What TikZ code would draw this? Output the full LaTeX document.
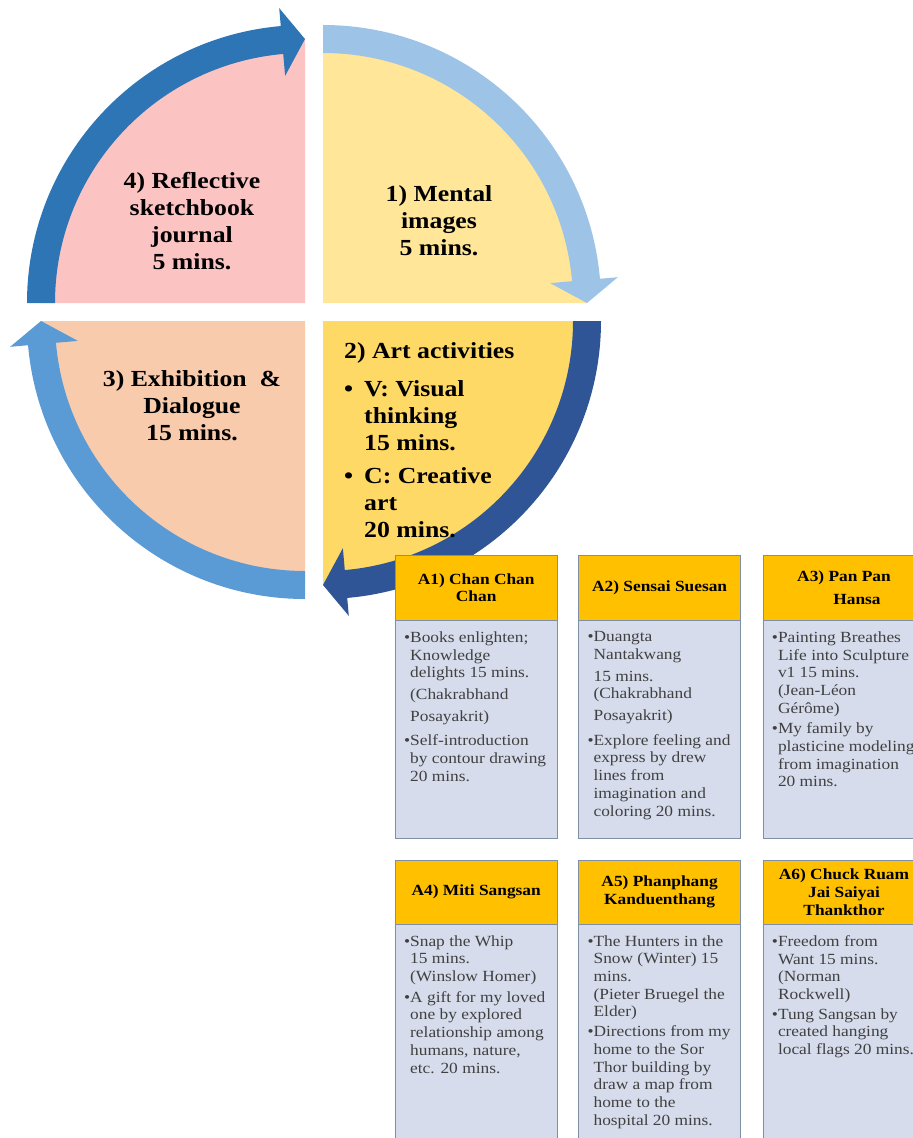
\documentclass[tikz,border=0pt]{standalone}
\usepackage{fontspec}
\setmainfont{Liberation Serif}[FakeStretch=1.12]
\usetikzlibrary{positioning}
\definecolor{PinkFill}{HTML}{FBC4C3}
\definecolor{PaleYellow}{HTML}{FFE699}
\definecolor{GoldFill}{HTML}{FFD966}
\definecolor{PeachFill}{HTML}{F8CBAD}
\definecolor{MidBlue}{HTML}{2E75B6}
\definecolor{SkyBlue}{HTML}{9DC3E6}
\definecolor{NavyBlue}{HTML}{2F5597}
\definecolor{SoftBlue}{HTML}{5B9BD5}
\definecolor{HeadOrange}{HTML}{FFC000}
\definecolor{BodyGrey}{HTML}{D6DCEC}
\definecolor{EdgeGrey}{HTML}{7F8FA6}
\tikzset{
  steptext/.style={font=\fontsize{23}{27}\selectfont\bfseries, align=center, inner sep=0pt},
  acthead/.style={draw=EdgeGrey, fill=HeadOrange, minimum width=162pt, minimum height=65pt,
    inner sep=0pt, align=center, font=\fontsize{15.5}{17.7}\selectfont\bfseries},
  actbody/.style={draw=EdgeGrey, fill=BodyGrey, minimum width=162pt, minimum height=218pt, inner sep=0pt},
  acttext/.style={anchor=north west, inner sep=0pt, align=left, text=black!75,
    font=\fontsize{15.5}{17.7}\selectfont},
}
\newcommand{\bul}{\llap{\textbullet}}
\newcommand{\bulwide}{\makebox[20pt][l]{\textbullet}}

\begin{document}
\begin{tikzpicture}[x=1pt, y=1pt]
  \useasboundingbox (0,0) rectangle (913,-1138);
  \clip (0,0) rectangle (913,-1138);

  \foreach \s/\qfill/\qband/\qx/\qy in {90/PaleYellow/SkyBlue/323/-303,
      0/GoldFill/NavyBlue/323/-321, -90/PeachFill/SoftBlue/305/-321,
      180/PinkFill/MidBlue/305/-303}{%
    \pgfmathsetmacro{\qend}{\s-90}
    \pgfmathsetmacro{\qbase}{\s-85}
    \begin{scope}[shift={(\qx,\qy)}]
      \fill[\qfill] (0,0) -- (\s:264) arc[start angle=\s, end angle=\qend, radius=264] -- cycle;
      \fill[\qband] (\s:278) arc[start angle=\s, end angle=\qbase, radius=278]
        -- (\qbase:296) -- (\qend:264) -- (\qbase:228) -- (\qbase:250)
        arc[start angle=\qbase, end angle=\s, radius=250] -- cycle;
    \end{scope}
  }

  \node[steptext] (s4) at (192,-221) {4) Reflective\\sketchbook\\journal\\5 mins.};
  \node[steptext] (s1) at (439,-221) {1) Mental\\images\\5 mins.};
  \node[steptext] (s3) at (192,-406) {3) Exhibition\ \ \&\\Dialogue\\15 mins.};
  \node[steptext, align=left, anchor=north west] (s2) at (344,-342) {2) Art activities\\[11pt]
    \bulwide V: Visual\\ \hspace*{20pt}thinking\\ \hspace*{20pt}15 mins.\\[6pt]
    \bulwide C: Creative\\ \hspace*{20pt}art\\ \hspace*{20pt}20 mins.};

  \node[acthead, anchor=north west] (a1h) at (395,-555) {A1) Chan Chan\\Chan};
  \node[actbody, below=0pt of a1h] (a1b) {};
  \node[acttext] (a1t) at ([xshift=15pt, yshift=-11pt]a1b.north west)
    {\bul Books enlighten;\\Knowledge\\delights 15 mins.\\[4pt](Chakrabhand\\[4pt]Posayakrit)\\[7pt]
     \bul Self-introduction\\by contour drawing\\20 mins.};

  \node[acthead, right=21pt of a1h] (a2h) {A2) Sensai Suesan};
  \node[actbody, below=0pt of a2h] (a2b) {};
  \node[acttext] (a2t) at ([xshift=15pt, yshift=-11pt]a2b.north west)
    {\bul Duangta\\Nantakwang\\[4pt]15 mins.\\(Chakrabhand\\[4pt]Posayakrit)\\[7pt]
     \bul Explore feeling and\\express by drew\\lines from\\imagination and\\coloring 20 mins.};

  \node[acthead, right=22pt of a2h] (a3h) {A3) Pan Pan\\[6pt]\hspace*{26pt}Hansa};
  \node[actbody, below=0pt of a3h] (a3b) {};
  \node[acttext] (a3t) at ([xshift=15pt, yshift=-11pt]a3b.north west)
    {\bul Painting Breathes\\Life into Sculpture\\v1 15 mins.\\(Jean-Léon\\Gérôme)\\[3pt]
     \bul My family by\\plasticine modeling\\from imagination\\20 mins.};

  \node[acthead, minimum height=64pt, below=21pt of a1b] (a4h) {A4) Miti Sangsan};
  \node[actbody, below=0pt of a4h] (a4b) {};
  \node[acttext] (a4t) at ([xshift=15pt, yshift=-11pt]a4b.north west)
    {\bul Snap the Whip\\15 mins.\\(Winslow Homer)\\[3pt]
     \bul A gift for my loved\\one by explored\\relationship among\\humans, nature,\\etc. 20 mins.};

  \node[acthead, minimum height=64pt, below=21pt of a2b] (a5h) {A5) Phanphang\\Kanduenthang};
  \node[actbody, below=0pt of a5h] (a5b) {};
  \node[acttext] (a5t) at ([xshift=15pt, yshift=-11pt]a5b.north west)
    {\bul The Hunters in the\\Snow (Winter) 15\\mins.\\(Pieter Bruegel the\\Elder)\\[2pt]
     \bul Directions from my\\home to the Sor\\Thor building by\\draw a map from\\home to the\\hospital 20 mins.};

  \node[acthead, minimum height=64pt, below=21pt of a3b] (a6h) {A6) Chuck Ruam\\Jai Saiyai\\Thankthor};
  \node[actbody, below=0pt of a6h] (a6b) {};
  \node[acttext] (a6t) at ([xshift=15pt, yshift=-11pt]a6b.north west)
    {\bul Freedom from\\Want 15 mins.\\(Norman\\Rockwell)\\[2pt]
     \bul Tung Sangsan by\\created hanging\\local flags 20 mins.};
\end{tikzpicture}
\end{document}
